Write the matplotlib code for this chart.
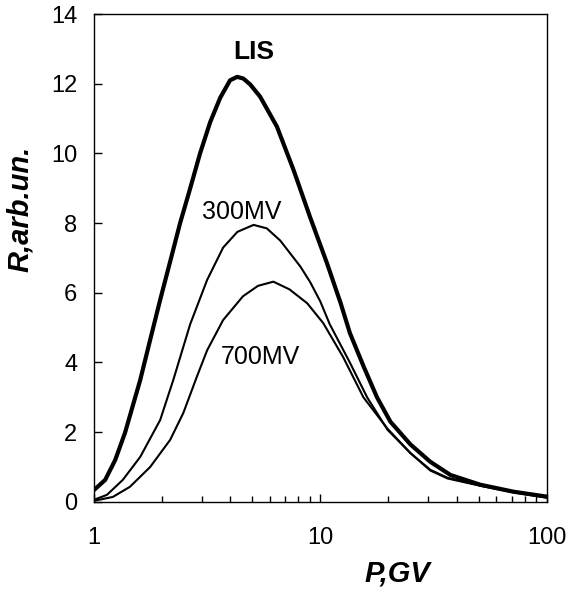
import matplotlib
matplotlib.use("Agg")
import matplotlib.pyplot as plt
from matplotlib.ticker import FixedLocator, NullFormatter

plt.rcParams['font.family'] = ['Liberation Sans', 'DejaVu Sans']

# LIS spectrum
p_lis = [1.0, 1.12, 1.24, 1.37, 1.6, 1.77, 1.96, 2.17, 2.4, 2.66, 2.94, 3.26,
         3.61, 3.99, 4.29, 4.57, 4.9, 5.42, 6.43, 7.62, 9.0, 10.7, 12.3, 13.5,
         15.5, 17.8, 20.4, 25.0, 30.6, 37.6, 51, 71.5, 100]
r_lis = [0.34, 0.63, 1.2, 1.98, 3.5, 4.65, 5.8, 6.9, 8.0, 9.0, 10.0, 10.9,
         11.6, 12.1, 12.2, 12.15, 11.98, 11.63, 10.77, 9.52, 8.18, 6.85, 5.7,
         4.85, 3.9, 3.0, 2.3, 1.65, 1.15, 0.77, 0.49, 0.29, 0.15]

# modulation 300 MV
p_300 = [1.0, 1.14, 1.34, 1.6, 1.96, 2.24, 2.66, 3.16, 3.72, 4.3, 5.07, 5.8,
         6.65, 8.17, 9.03, 10.0, 11.0, 13.5, 16.1, 19.8, 25.0, 30.6, 36.5, 51,
         71.5, 100]
r_300 = [0.06, 0.2, 0.63, 1.29, 2.35, 3.5, 5.1, 6.37, 7.3, 7.75, 7.95, 7.85,
         7.5, 6.75, 6.3, 5.75, 5.1, 4.0, 3.0, 2.07, 1.4, 0.92, 0.69, 0.47,
         0.28, 0.13]

# modulation 700 MV
p_700 = [1.0, 1.21, 1.44, 1.77, 2.17, 2.48, 2.85, 3.16, 3.72, 4.55, 5.3, 6.2,
         7.3, 8.75, 10.3, 12.6, 15.5, 19.8, 25.0, 30.6, 36.5, 51, 71.5, 100]
r_700 = [0.03, 0.14, 0.43, 1.0, 1.78, 2.55, 3.6, 4.35, 5.22, 5.9, 6.2, 6.32,
         6.1, 5.7, 5.13, 4.16, 3.0, 2.1, 1.4, 0.9, 0.67, 0.46, 0.27, 0.12]

fig = plt.figure(figsize=(5.70, 5.89), dpi=100)
ax = fig.add_axes([0.165, 0.148, 0.794, 0.828])

ax.plot(p_lis, r_lis, color="black", lw=3.0, solid_joinstyle="round")
ax.plot(p_300, r_300, color="black", lw=1.5, solid_joinstyle="round")
ax.plot(p_700, r_700, color="black", lw=1.5, solid_joinstyle="round")

ax.set_xscale("log")
ax.set_xlim(1, 100)
ax.set_ylim(0, 14)
ax.set_xticks([1, 10, 100])
ax.set_xticklabels(["1", "10", "100"])
ax.xaxis.set_minor_locator(FixedLocator([2, 3, 4, 5, 6, 7, 8, 9,
                                         20, 30, 40, 50, 60, 70, 80, 90]))
ax.xaxis.set_minor_formatter(NullFormatter())
ax.set_yticks(range(0, 15, 2))

ax.tick_params(axis="both", which="major", direction="in", length=6,
               width=1, labelsize=17, top=False, right=False)
ax.tick_params(axis="x", which="major", pad=18)
ax.tick_params(axis="y", which="major", pad=12)
ax.tick_params(axis="x", which="minor", direction="in", length=4.5, width=1,
               top=False)
for s in ax.spines.values():
    s.set_linewidth(1.0)

ax.set_xlabel("P,GV", fontsize=21, fontweight="bold", fontstyle="italic")
ax.xaxis.set_label_coords(0.671, -0.118)
ax.set_ylabel("R,arb.un.", fontsize=21, fontweight="bold", fontstyle="italic")
ax.yaxis.set_label_coords(-0.132, 0.6)

ax.text(5.07, 12.9, "LIS", fontsize=19, fontweight="bold", ha="center",
        va="center")
ax.text(4.47, 8.33, "300MV", fontsize=18, ha="center", va="center")
ax.text(5.43, 4.16, "700MV", fontsize=18, ha="center", va="center")

fig.savefig("out.png", dpi=100)
